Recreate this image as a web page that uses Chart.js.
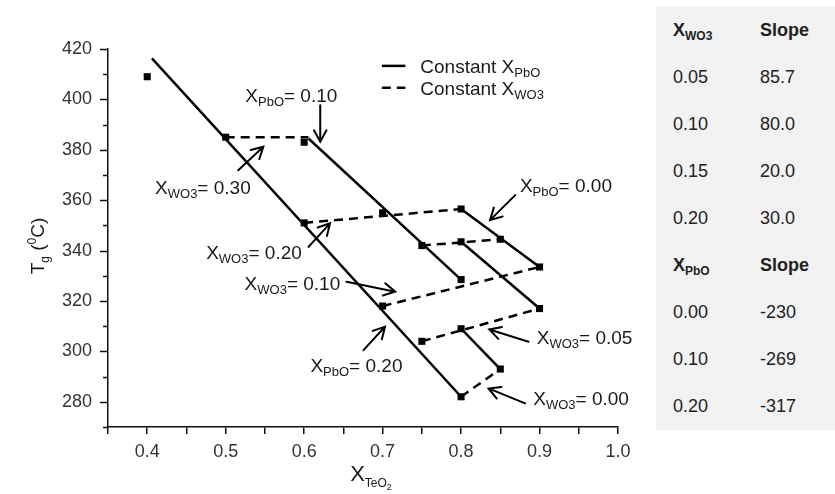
<!DOCTYPE html>
<html>
<head>
<meta charset="utf-8">
<script src="https://cdn.jsdelivr.net/npm/chart.js@4.4.0/dist/chart.umd.min.js"></script>
<style>
body { margin: 0; background: #fff; font-family: Arial, "Liberation Sans", sans-serif; }
#wrap { position: relative; width: 835px; height: 494px; }
#slopes { position: absolute; left: 656px; top: 6px; width: 179px; height: 424px; background: #f2f2f2; }
#slopes div { position: absolute; font-size: 18px; color: #222; line-height: 22px; white-space: nowrap; }
#slopes sub { font-size: 12px; vertical-align: -4px; line-height: 0; }
</style>
</head>
<body>
<div id="wrap">
  <canvas id="tgChart" width="835" height="494"></canvas>
  <div id="slopes"></div>
</div>
<script>
// measured glasses: X(TeO2) and Tg
const glassX  = [0.4, 0.5, 0.6, 0.6, 0.7, 0.7, 0.75, 0.75, 0.8, 0.8, 0.8, 0.8, 0.8, 0.85, 0.85, 0.9, 0.9];
const glassTg = [409, 385, 383, 351, 355, 318, 342, 304, 356.5, 343.5, 328.5, 309, 282, 344.5, 293, 333.5, 317];

// constant X(PbO) lines : x1, y1, x2, y2
const solidLines = [
  [0.406, 416.3, 0.8, 282],
  [0.6055, 384.5, 0.8, 328.5],
  [0.8, 356.5, 0.9, 333.5],
  [0.8, 343.5, 0.9, 317],
  [0.8, 309, 0.85, 293]
];
// constant X(WO3) lines
const dashedLines = [
  [0.5, 385, 0.6055, 385],
  [0.6, 351, 0.8, 356.5],
  [0.75, 342, 0.85, 344.5],
  [0.7, 318, 0.9, 333.5],
  [0.75, 304, 0.9, 317],
  [0.8, 282, 0.85, 293]
];

const xLabelTicks = [0.4, 0.5, 0.6, 0.7, 0.8, 0.9, 1.0];
const yLabelTicks = [280, 300, 320, 340, 360, 380, 400, 420];

// slope table
const wo3Values = ['0.05', '0.10', '0.15', '0.20'];
const wo3Slopes = ['85.7', '80.0', '20.0', '30.0'];
const pboValues = ['0.00', '0.10', '0.20'];
const pboSlopes = ['-230', '-269', '-317'];

// labels with arrows (data coords)
const notes = [
  { x: 0.525, y: 401.7, sub: 'PbO', val: '0.10', align: 'left' },
  { x: 0.410, y: 365.3, sub: 'WO3', val: '0.30', align: 'left' },
  { x: 0.875, y: 366.0, sub: 'PbO', val: '0.00', align: 'left' },
  { x: 0.597, y: 339.5, sub: 'WO3', val: '0.20', align: 'right' },
  { x: 0.646, y: 327.0, sub: 'WO3', val: '0.10', align: 'right' },
  { x: 0.608, y: 294.6, sub: 'PbO', val: '0.20', align: 'left' },
  { x: 0.8965, y: 305.8, sub: 'WO3', val: '0.05', align: 'left' },
  { x: 0.892, y: 281.3, sub: 'WO3', val: '0.00', align: 'left' }
];
const arrows = [
  [0.6205, 397.7, 0.6205, 383.2],
  [0.516, 371.9, 0.548, 381.2],
  [0.869, 362.0, 0.837, 352.1],
  [0.6055, 341.5, 0.633, 350.8],
  [0.654, 327.6, 0.716, 323.7],
  [0.6756, 300.5, 0.703, 309.8],
  [0.886, 303.8, 0.836, 308.7],
  [0.8816, 279.4, 0.835, 285.3]
];

const FONT = 'Arial, "Liberation Sans", sans-serif';
const INK = '#1a1a1a';

function segDataset(s, dashed) {
  return {
    data: [{ x: s[0], y: s[1] }, { x: s[2], y: s[3] }],
    showLine: true,
    borderColor: '#000',
    borderWidth: 2.5,
    borderDash: dashed ? [9, 6] : [],
    pointRadius: 0,
    fill: false
  };
}

let datasets = [];
solidLines.forEach(s => datasets.push(segDataset(s, false)));
dashedLines.forEach(s => datasets.push(segDataset(s, true)));
datasets.push({
  data: glassX.map((x, i) => ({ x: x, y: glassTg[i] })),
  showLine: false,
  pointStyle: 'rect',
  pointRadius: 5,
  backgroundColor: '#000',
  borderColor: '#000',
  borderWidth: 0
});

// text with sub / superscripts, parts = [text, size, shift]
function drawParts(ctx, parts, x, y, align) {
  let w = 0;
  parts.forEach(p => { ctx.font = p[1] + 'px ' + FONT; w += ctx.measureText(p[0]).width; });
  let cx = align === 'right' ? x - w : (align === 'center' ? x - w / 2 : x);
  parts.forEach(p => {
    ctx.font = p[1] + 'px ' + FONT;
    ctx.fillText(p[0], cx, y + p[2]);
    cx += ctx.measureText(p[0]).width;
  });
}

function arrowLine(ctx, x1, y1, x2, y2) {
  const a = Math.atan2(y2 - y1, x2 - x1);
  const h = 13, s = 0.5;
  ctx.beginPath();
  ctx.moveTo(x1, y1);
  ctx.lineTo(x2, y2);
  ctx.moveTo(x2 - h * Math.cos(a - s), y2 - h * Math.sin(a - s));
  ctx.lineTo(x2, y2);
  ctx.lineTo(x2 - h * Math.cos(a + s), y2 - h * Math.sin(a + s));
  ctx.stroke();
}

const extras = {
  id: 'extras',
  afterDraw(chart) {
    const ctx = chart.ctx;
    const xs = chart.scales.x, ys = chart.scales.y;
    const area = chart.chartArea;
    ctx.save();
    ctx.fillStyle = INK;
    ctx.strokeStyle = '#000';
    ctx.textBaseline = 'alphabetic';

    // y ticks: long at labelled values, short in between
    ctx.strokeStyle = '#111';
    ctx.lineWidth = 1.5;
    ys.ticks.forEach(t => {
      const py = Math.round(ys.getPixelForValue(t.value)) + 0.5;
      const len = yLabelTicks.indexOf(Math.round(t.value)) >= 0 ? 8 : 5;
      ctx.beginPath(); ctx.moveTo(area.left - len, py); ctx.lineTo(area.left, py); ctx.stroke();
    });
    ctx.strokeStyle = '#000';

    // annotations
    notes.forEach(n => {
      const px = xs.getPixelForValue(n.x), py = ys.getPixelForValue(n.y) + 6.8;
      drawParts(ctx, [['X', 19, 0], [n.sub, 13, 4], ['= ' + n.val, 19, 0]], px, py, n.align);
    });
    ctx.lineWidth = 2;
    ctx.lineCap = 'round';
    arrows.forEach(a => {
      arrowLine(ctx, xs.getPixelForValue(a[0]), ys.getPixelForValue(a[1]),
        xs.getPixelForValue(a[2]), ys.getPixelForValue(a[3]));
    });

    // legend
    const lx1 = xs.getPixelForValue(0.699), lx2 = xs.getPixelForValue(0.729), tx = xs.getPixelForValue(0.748);
    const ly1 = ys.getPixelForValue(413.3), ly2 = ys.getPixelForValue(404.6);
    ctx.lineWidth = 2.5;
    ctx.lineCap = 'butt';
    ctx.beginPath(); ctx.moveTo(lx1, ly1); ctx.lineTo(lx2, ly1); ctx.stroke();
    ctx.setLineDash([9, 6]);
    ctx.beginPath(); ctx.moveTo(lx1, ly2); ctx.lineTo(lx2, ly2); ctx.stroke();
    ctx.setLineDash([]);
    drawParts(ctx, [['Constant X', 19, 0], ['PbO', 13, 4]], tx, ly1 + 6.8, 'left');
    drawParts(ctx, [['Constant X', 19, 0], ['WO3', 13, 4]], tx, ly2 + 6.8, 'left');

    // axis titles
    drawParts(ctx, [['X', 22, 0], ['TeO', 12, 6], ['2', 9, 9]], (area.left + area.right) / 2 + 8, 481, 'center');
    ctx.translate(44, 246);
    ctx.rotate(-Math.PI / 2);
    drawParts(ctx, [['T', 19, 0], ['g', 12, 5], [' (', 19, 0], ['0', 12, -8], ['C)', 19, 0]], 0, 0, 'center');
    ctx.restore();
  }
};

new Chart(document.getElementById('tgChart'), {
  type: 'scatter',
  data: { datasets: datasets },
  plugins: [extras],
  options: {
    responsive: false,
    animation: false,
    layout: { padding: { left: 0, top: 49, right: 217, bottom: 0 } },
    plugins: { legend: { display: false }, tooltip: { enabled: false } },
    scales: {
      x: {
        type: 'linear',
        min: 0.35,
        max: 1.0,
        afterFit: (scale) => { scale.height = 67; },
        border: { display: true, color: '#111', width: 1.5 },
        grid: { display: true, drawOnChartArea: false, drawTicks: true, tickLength: 7, color: '#111', lineWidth: 1.5 },
        ticks: {
          stepSize: 0.05,
          autoSkip: false,
          maxRotation: 0,
          padding: 7,
          color: '#333',
          font: { family: FONT, size: 18 },
          callback: (v) => xLabelTicks.some(t => Math.abs(t - v) < 1e-6) ? Number(v).toFixed(1) : ''
        }
      },
      y: {
        type: 'linear',
        min: 270,
        max: 420,
        afterFit: (scale) => { scale.width = 108; },
        border: { display: true, color: '#111', width: 1.5 },
        grid: { display: true, drawOnChartArea: false, drawTicks: false, tickLength: 0 },
        ticks: {
          stepSize: 10,
          autoSkip: false,
          padding: 16,
          color: '#333',
          font: { family: FONT, size: 18 },
          callback: (v) => yLabelTicks.indexOf(Math.round(v)) >= 0 ? String(Math.round(v)) : ''
        }
      }
    }
  }
});

// slope table on the right
let slopes = document.getElementById('slopes');
let rows = [['<b>X<sub>WO3</sub></b>', '<b>Slope</b>']];
wo3Values.forEach((v, i) => rows.push([v, wo3Slopes[i]]));
rows.push(['<b>X<sub>PbO</sub></b>', '<b>Slope</b>']);
pboValues.forEach((v, i) => rows.push([v, pboSlopes[i]]));
rows.forEach((r, i) => {
  const top = 30 + i * 47 - 6 - 11;
  slopes.insertAdjacentHTML('beforeend',
    '<div style="left:17px;top:' + top + 'px">' + r[0] + '</div>' +
    '<div style="left:104px;top:' + top + 'px">' + r[1] + '</div>');
});
</script>
</body>
</html>
